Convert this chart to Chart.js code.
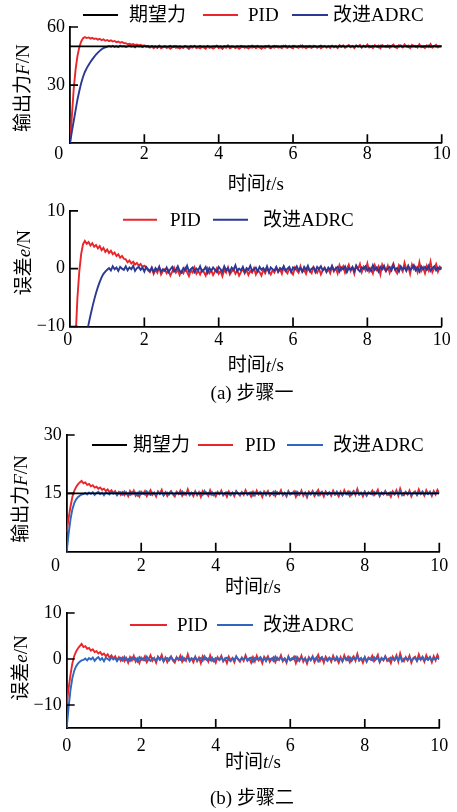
<!DOCTYPE html>
<html>
<head>
<meta charset="utf-8">
<script src="https://cdn.jsdelivr.net/npm/chart.js@4.4.1/dist/chart.umd.min.js"></script>
<style>
  html, body { margin: 0; padding: 0; background: #fff; }
  body { width: 457px; height: 812px; position: relative; overflow: hidden; }
  canvas { position: absolute; left: 0; }
  .cap { position: absolute; left: 132px; width: 240px; text-align: center; font: 19px 'Liberation Serif', 'Noto Sans CJK SC'; color: #000; line-height: 24px; }
</style>
</head>
<body>
<canvas id="c1" width="457" height="205" style="top:0px"></canvas>
<canvas id="c2" width="457" height="210" style="top:195px"></canvas>
<canvas id="c3" width="457" height="200" style="top:405px"></canvas>
<canvas id="c4" width="457" height="217" style="top:595px"></canvas>
<div class="cap" style="top:381px">(a) 步骤一</div>
<div class="cap" style="top:786px">(b) 步骤二</div>
<script>
// ---------- data ----------
const time = [
0,0.05,0.1,0.15,0.2,0.25,0.3,0.35,0.4,0.45,
0.5,0.55,0.6,0.65,0.7,0.75,0.8,0.85,0.9,0.95,
1,1.05,1.1,1.15,1.2,1.25,1.3,1.35,1.4,1.45,
1.5,1.55,1.6,1.65,1.7,1.75,1.8,1.85,1.9,1.95,
2,2.05,2.1,2.15,2.2,2.25,2.3,2.35,2.4,2.45,
2.5,2.55,2.6,2.65,2.7,2.75,2.8,2.85,2.9,2.95,
3,3.05,3.1,3.15,3.2,3.25,3.3,3.35,3.4,3.45,
3.5,3.55,3.6,3.65,3.7,3.75,3.8,3.85,3.9,3.95,
4,4.05,4.1,4.15,4.2,4.25,4.3,4.35,4.4,4.45,
4.5,4.55,4.6,4.65,4.7,4.75,4.8,4.85,4.9,4.95,
5,5.05,5.1,5.15,5.2,5.25,5.3,5.35,5.4,5.45,
5.5,5.55,5.6,5.65,5.7,5.75,5.8,5.85,5.9,5.95,
6,6.05,6.1,6.15,6.2,6.25,6.3,6.35,6.4,6.45,
6.5,6.55,6.6,6.65,6.7,6.75,6.8,6.85,6.9,6.95,
7,7.05,7.1,7.15,7.2,7.25,7.3,7.35,7.4,7.45,
7.5,7.55,7.6,7.65,7.7,7.75,7.8,7.85,7.9,7.95,
8,8.05,8.1,8.15,8.2,8.25,8.3,8.35,8.4,8.45,
8.5,8.55,8.6,8.65,8.7,8.75,8.8,8.85,8.9,8.95,
9,9.05,9.1,9.15,9.2,9.25,9.3,9.35,9.4,9.45,
9.5,9.55,9.6,9.65,9.7,9.75,9.8,9.85,9.9,9.95,
10];

const xTicks = [0, 2, 4, 6, 8, 10];
const yTicksForce1 = [30, 60];
const yTicksError1 = [-10, 0, 10];
const yTicksForce2 = [15, 30];
const yTicksError2 = [-10, 0, 10];

const desiredForce1 = 50;
const desiredForce2 = 15;

const seriesNames = ['期望力', 'PID', '改进ADRC'];

// Step 1 output force F/N
const outputPID1 = [
0,14,28,38,45,49.5,52.5,54.2,54.8,54.3,
54.6,54.0,54.4,53.8,54.1,53.5,53.9,53.2,53.6,52.9,
53.3,52.7,53.1,52.5,52.8,52.2,52.5,51.9,52.2,51.7,
51.6,51.1,51.4,50.9,51.2,50.7,51.0,50.5,50.8,50.3,
50.5,
50.2,49.7,49.4,50.1,49.1,49.8,49.3,50.3,49.0,49.6,
49.9,49.2,49.7,48.8,49.5,50.2,49.3,49.8,48.9,49.6,
49.2,50.1,49.4,48.7,49.7,49.3,50.2,49.1,49.6,49.0,
49.8,49.4,48.8,50.0,49.2,49.7,48.9,49.5,50.1,49.1,
49.6,48.7,49.8,49.3,50.2,49.0,49.5,49.9,49.1,49.7,
48.8,49.4,50.0,49.2,49.8,48.9,49.6,49.3,50.1,49.0,
49.7,49.4,48.8,49.8,49.2,50.1,49.5,49.0,49.7,49.3,
50.2,49.4,49.9,49.1,50.3,49.6,49.2,50.1,49.5,49.0,
50.2,49.7,49.3,50.4,49.4,49.8,49.1,50.1,49.6,49.2,
50.3,49.8,49.3,50.0,49.0,49.7,50.2,49.4,49.9,49.2,
50.3,49.5,50.1,49.2,50.6,49.8,50.4,49.3,50.0,50.7,
49.6,50.2,49.1,50.5,49.9,50.8,49.4,50.3,49.7,50.9,
49.5,50.1,49.2,50.6,49.8,50.4,49.0,50.7,50.0,49.6,
50.5,49.3,50.2,50.9,49.7,49.2,50.6,50.1,49.5,51.0,
49.8,50.4,49.1,50.7,49.9,50.3,49.4,51.1,49.6,50.2,
49.2,50.5,49.7,51.2,49.4,50.1,50.8,49.5,50.3,49.8];

const outputADRC1 = [
0,6,11.5,17,22.5,27,31,34.2,36.8,38.8,
40.4,41.9,43.3,44.6,45.8,46.8,47.7,48.5,49.1,49.5,
49.8,
50.2,49.8,50.3,49.7,50.1,49.6,50.4,49.9,50.2,49.7,
50.0,50.4,49.8,50.2,49.5,50.3,49.9,50.1,49.6,50.2,
49.8,50.3,49.5,50.1,49.7,50.0,49.4,50.2,49.8,49.6,
50.1,49.5,49.9,50.3,49.6,49.8,50.2,49.4,50.0,49.7,
49.5,50.2,49.8,49.4,50.1,49.7,50.3,49.6,49.9,50.2,
49.6,50.0,49.5,50.3,49.8,49.6,50.1,49.9,50.4,49.7,
50.0,49.5,50.2,49.8,50.5,49.6,50.1,49.9,49.5,50.2,
49.8,50.3,49.7,50.0,49.5,50.2,49.9,50.4,49.6,50.0,
50.3,49.7,50.1,49.6,50.2,49.9,50.4,49.5,50.0,50.3,
49.8,50.1,49.5,50.2,49.9,50.4,49.7,50.0,49.6,50.3,
50.0,49.6,50.2,49.8,50.5,49.7,50.1,49.5,50.3,49.9,
49.7,50.2,49.5,50.0,50.4,49.8,50.1,49.6,50.2,49.9,
50.3,49.7,50.1,49.5,50.2,49.8,50.4,49.6,50.0,50.3,
49.8,50.2,49.6,50.4,49.9,50.1,49.5,50.3,49.8,50.0,
50.2,49.6,50.3,49.9,50.1,49.5,50.4,49.8,50.0,50.2,
49.7,50.3,49.9,50.1,49.6,50.2,49.8,50.5,49.7,50.0,
50.3,49.6,50.1,49.8,50.4,49.7,50.2,49.9,50.1,49.6,
50.2,49.8,50.4,49.7,50.0,50.3,49.8,50.1,49.9,50.2];

// Step 1 error e/N
const errorPID1 = [
-50,-36,-22,-12,-5,-0.5,2.5,4.2,4.8,4.3,
4.6,4.0,4.4,3.8,4.1,3.5,3.9,3.2,3.6,2.9,
3.3,2.7,3.1,2.5,2.8,2.2,2.5,1.9,2.2,1.7,
1.6,1.1,1.4,0.9,1.2,0.7,1.0,0.5,0.8,0.3,
0.5,
0.2,-0.3,-0.6,0.1,-0.9,-0.2,-0.7,0.3,-1.0,-0.4,
-0.1,-0.8,-0.3,-1.2,-0.5,0.2,-0.7,-0.2,-1.1,-0.4,
-0.8,0.1,-0.6,-1.3,-0.3,-0.7,0.2,-0.9,-0.4,-1.0,
-0.2,-0.6,-1.2,0.0,-0.8,-0.3,-1.1,-0.5,0.1,-0.9,
-0.4,-1.3,-0.2,-0.7,0.2,-1.0,-0.5,-0.1,-0.9,-0.3,
-1.2,-0.6,0.0,-0.8,-0.2,-1.1,-0.4,-0.7,0.1,-1.0,
-0.3,-0.6,-1.2,-0.2,-0.8,0.1,-0.5,-1.0,-0.3,-0.7,
0.2,-0.6,-0.1,-0.9,0.3,-0.4,-0.8,0.1,-0.5,-1.0,
0.2,-0.3,-0.7,0.4,-0.6,-0.2,-0.9,0.1,-0.4,-0.8,
0.3,-0.2,-0.7,0.0,-1.0,-0.3,0.2,-0.6,-0.1,-0.8,
0.3,-0.5,0.1,-0.8,0.6,-0.2,0.4,-0.7,0.0,0.7,
-0.4,0.2,-0.9,0.5,-0.1,0.8,-0.6,0.3,-0.3,0.9,
-0.5,0.1,-0.8,0.6,-0.2,0.4,-1.0,0.7,0.0,-0.4,
0.5,-0.7,0.2,0.9,-0.3,-0.8,0.6,0.1,-0.5,1.0,
-0.2,0.4,-0.9,0.7,-0.1,0.3,-0.6,1.1,-0.4,0.2,
-0.8,0.5,-0.3,1.2,-0.6,0.1,0.8,-0.5,0.3,-0.2];

const errorADRC1 = [
-50,-44,-38.5,-33,-27.5,-23,-19,-15.8,-13.2,-11.2,
-9.6,-8.1,-6.7,-5.4,-4.2,-3.2,-2.3,-1.5,-0.9,-0.5,
-0.2,
0.1,-0.3,0.4,-0.1,0.2,-0.4,0.3,0.0,-0.2,0.4,
-0.3,0.2,-0.1,0.5,-0.4,0.1,0.3,-0.2,0.2,-0.5,
0.3,-0.1,-0.4,0.2,-0.6,0.1,-0.3,0.3,-0.5,-0.1,
-0.4,0.2,-0.6,-0.1,0.3,-0.5,-0.2,0.4,-0.4,-0.7,
0.1,-0.3,0.5,-0.5,-0.1,0.2,-0.6,0.0,-0.3,0.4,
-0.5,-0.2,0.3,-0.7,0.1,-0.4,0.2,-0.2,-0.6,0.3,
-0.1,-0.5,0.4,-0.3,0.1,-0.6,0.2,-0.2,0.6,-0.4,
0.0,-0.3,0.3,-0.6,0.1,-0.2,0.5,-0.4,-0.1,0.2,
-0.5,0.3,-0.2,0.1,-0.4,0.4,-0.6,0.2,-0.1,-0.3,
0.3,-0.5,0.1,-0.2,0.4,-0.4,0.0,0.3,-0.6,0.2,
-0.1,0.4,-0.3,0.1,-0.5,0.3,-0.2,0.5,-0.4,0.0,
0.2,-0.6,0.3,-0.1,0.4,-0.3,0.1,-0.5,0.2,-0.2,
0.5,-0.3,0.0,0.3,-0.5,0.2,-0.1,0.4,-0.6,0.1,
-0.2,0.3,-0.4,0.5,-0.1,-0.5,0.2,0.0,0.4,-0.3,
0.1,-0.4,0.6,-0.2,0.2,-0.5,0.3,-0.1,0.5,-0.4,
0.0,0.3,-0.3,0.6,-0.2,0.1,-0.5,0.4,-0.1,0.2,
-0.4,0.5,-0.2,0.1,0.6,-0.3,0.2,-0.5,0.4,-0.1,
0.3,-0.2,0.5,-0.4,0.1,0.4,-0.3,0.2,-0.1,0.3];

// Step 2 output force F/N
const outputPID2 = [
5,8.5,11.5,14.0,15.6,16.6,17.3,17.8,18.2,17.6,
17.8,17.2,17.4,16.8,17.1,16.5,16.7,16.2,16.5,15.9,
16.2,15.6,16.0,15.3,15.8,15.1,15.6,14.8,15.4,14.6,
15.3,
14.5,15.2,14.3,15.6,14.8,15.7,14.4,15.1,14.2,15.4,
14.9,15.6,14.3,15.0,15.8,14.6,15.2,14.2,15.5,14.9,
15.9,14.5,15.3,14.3,15.1,15.6,14.7,14.2,15.4,14.8,
15.7,14.4,15.2,14.6,16.0,14.7,15.1,14.3,15.5,14.5,
15.3,14.1,15.6,14.9,15.2,14.4,15.8,14.6,15.0,14.2,
15.4,14.8,15.7,14.5,15.1,14.1,15.5,14.7,15.2,14.3,
15.6,14.9,14.4,15.3,14.6,15.8,14.8,15.1,14.2,15.4,
14.5,15.7,14.7,15.2,14.1,15.5,14.9,15.6,14.4,15.0,
15.4,14.3,15.3,14.8,15.8,14.5,15.1,14.2,15.6,14.7,
14.9,15.5,14.1,15.3,14.6,15.7,14.4,15.2,14.0,15.4,
14.8,15.6,14.3,15.1,15.9,14.6,15.3,14.2,15.5,14.9,
15.2,14.4,15.7,14.7,15.0,14.2,15.4,14.5,15.8,14.8,
15.5,14.3,15.1,15.6,14.6,16.1,14.7,15.2,14.2,15.4,
14.4,15.3,14.9,15.7,14.5,15.0,15.9,14.3,15.2,14.7,
15.6,14.6,15.1,14.1,15.5,14.8,15.8,14.4,16.2,14.9,
14.5,15.4,14.7,15.7,14.2,15.2,15.5,14.6,16.0,14.8,
15.3,14.4,15.8,14.9,15.4,14.3,15.6,14.7,15.9,15.1];

const outputADRC2 = [
0,4.5,8.2,10.8,12.4,13.4,14.0,14.4,14.7,14.8,
15.1,14.7,15.2,
14.9,15.3,14.6,15.1,15.4,14.8,15.2,14.5,15.3,15.0,
14.7,15.4,14.9,15.2,14.5,15.1,15.3,14.7,15.5,14.8,
15.0,14.6,15.3,14.9,15.2,14.5,15.4,14.8,15.1,14.7,
15.5,14.9,14.6,15.2,15.0,14.7,15.4,14.8,15.3,14.5,
15.1,15.2,14.7,15.4,14.9,14.6,15.3,15.0,14.8,15.5,
14.7,15.1,15.3,14.5,15.2,14.9,15.4,14.7,15.0,15.2,
14.6,15.6,14.8,15.1,14.7,15.3,14.5,15.2,15.0,14.8,
15.4,14.6,15.1,15.3,14.9,14.5,15.2,14.8,15.5,15.0,
14.7,15.2,14.9,15.4,14.6,15.1,15.3,14.4,15.2,14.9,
15.0,15.4,14.7,15.2,14.5,15.3,14.9,15.1,14.6,15.5,
14.8,15.0,15.3,14.7,15.1,14.5,15.4,14.8,15.2,14.9,
15.5,14.6,15.0,15.3,14.8,15.1,14.4,15.2,14.7,15.4,
14.9,15.3,14.5,15.1,15.4,14.8,15.0,14.6,15.3,14.9,
15.2,14.7,15.5,14.8,15.1,14.5,15.3,15.0,14.7,15.4,
14.6,15.2,14.9,15.6,14.7,15.1,14.8,15.4,14.5,15.2,
15.0,14.7,15.4,14.9,15.3,14.4,15.2,14.8,15.5,14.9,
14.6,15.3,15.1,14.7,15.4,14.8,15.5,14.5,15.1,15.2,
14.8,15.4,14.7,15.0,15.3,14.6,15.2,14.9,15.5,14.7,
15.1,14.8,15.4,14.6,15.2,15.0,15.3,14.9];

// Step 2 error e/N
const errorPID2 = [
-10,-6.5,-3.5,-1.0,0.6,1.6,2.3,2.8,3.3,2.6,
2.8,2.2,2.4,1.8,2.1,1.5,1.7,1.2,1.5,0.9,
1.2,0.6,1.0,0.3,0.8,0.1,0.6,-0.2,0.4,-0.4,
0.3,
-0.5,0.2,-0.8,0.4,-0.3,0.7,-0.6,0.1,-0.9,0.3,
-0.2,0.6,-0.7,0.0,0.8,-0.4,0.2,-0.8,0.5,-0.1,
0.9,-0.5,0.3,-0.7,0.1,0.6,-0.3,-0.8,0.4,-0.2,
0.7,-0.6,0.2,-0.4,1.0,-0.3,0.1,-0.7,0.5,-0.5,
0.3,-0.9,0.6,-0.1,0.2,-0.6,0.8,-0.4,0.0,-0.8,
0.4,-0.2,0.7,-0.5,0.1,-0.9,0.5,-0.3,0.2,-0.7,
0.6,-0.1,-0.6,0.3,-0.4,0.8,-0.2,0.1,-0.8,0.4,
-0.5,0.7,-0.3,0.2,-0.9,0.5,-0.1,0.6,-0.6,0.0,
0.4,-0.7,0.3,-0.2,0.8,-0.5,0.1,-0.8,0.6,-0.3,
-0.1,0.5,-0.9,0.3,-0.4,0.7,-0.6,0.2,-1.0,0.4,
-0.2,0.6,-0.7,0.1,0.9,-0.4,0.3,-0.8,0.5,-0.1,
0.2,-0.6,0.7,-0.3,0.0,-0.8,0.4,-0.5,0.8,-0.2,
0.5,-0.7,0.1,0.6,-0.4,1.1,-0.3,0.2,-0.8,0.4,
-0.6,0.3,-0.1,0.7,-0.5,0.0,0.9,-0.7,0.2,-0.3,
0.6,-0.4,0.1,-0.9,0.5,-0.2,0.8,-0.6,1.2,-0.1,
-0.5,0.4,-0.3,0.7,-0.8,0.2,0.5,-0.4,1.0,-0.2,
0.3,-0.6,0.8,-0.1,0.4,-0.7,0.6,-0.3,0.9,0.1];

const errorADRC2 = [
-15,-10.5,-6.8,-4.2,-2.6,-1.6,-1.0,-0.6,-0.3,-0.2,
0.1,-0.3,0.2,
-0.1,0.3,-0.4,0.1,0.4,-0.2,0.2,-0.5,0.3,0.0,
-0.3,0.4,-0.1,0.2,-0.5,0.1,0.3,-0.3,0.5,-0.2,
0.0,-0.4,0.3,-0.1,0.2,-0.5,0.4,-0.2,0.1,-0.3,
0.5,-0.1,-0.4,0.2,0.0,-0.3,0.4,-0.2,0.3,-0.5,
0.1,0.2,-0.3,0.4,-0.1,-0.4,0.3,0.0,-0.2,0.5,
-0.3,0.1,0.3,-0.5,0.2,-0.1,0.4,-0.3,0.0,0.2,
-0.4,0.6,-0.2,0.1,-0.3,0.3,-0.5,0.2,0.0,-0.2,
0.4,-0.4,0.1,0.3,-0.1,-0.5,0.2,-0.2,0.5,0.0,
-0.3,0.2,-0.1,0.4,-0.4,0.1,0.3,-0.6,0.2,-0.1,
0.0,0.4,-0.3,0.2,-0.5,0.3,-0.1,0.1,-0.4,0.5,
-0.2,0.0,0.3,-0.3,0.1,-0.5,0.4,-0.2,0.2,-0.1,
0.5,-0.4,0.0,0.3,-0.2,0.1,-0.6,0.2,-0.3,0.4,
-0.1,0.3,-0.5,0.1,0.4,-0.2,0.0,-0.4,0.3,-0.1,
0.2,-0.3,0.5,-0.2,0.1,-0.5,0.3,0.0,-0.3,0.4,
-0.4,0.2,-0.1,0.6,-0.3,0.1,-0.2,0.4,-0.5,0.2,
0.0,-0.3,0.4,-0.1,0.3,-0.6,0.2,-0.2,0.5,-0.1,
-0.4,0.3,0.1,-0.3,0.4,-0.2,0.5,-0.5,0.1,0.2,
-0.2,0.4,-0.3,0.0,0.3,-0.4,0.2,-0.1,0.5,-0.3,
0.1,-0.2,0.4,-0.4,0.2,0.0,0.3,-0.1];

// ---------- sanity ----------
const allSeries = {outputPID1, outputADRC1, errorPID1, errorADRC1, outputPID2, outputADRC2, errorPID2, errorADRC2};
for (const k in allSeries) {
  if (allSeries[k].length !== time.length) throw new Error(k + ' has ' + allSeries[k].length + ' points, time has ' + time.length);
}

// ---------- styling ----------
const FAMILY = "'Liberation Serif', 'Noto Sans CJK SC', serif";
const BLACK = '#000000';
const RED = '#e8262c';
const BLUE_A = '#2b3894';
const BLUE_B = '#2f67c0';

const pts = (ys) => time.map((t, i) => ({ x: t, y: ys[i] }));
const flat = (v) => [{ x: time[0], y: v }, { x: time[time.length - 1], y: v }];

function lineDs(label, data, color, order, width) {
  return { label, data, borderColor: color, backgroundColor: color, borderWidth: width || 1.9,
           pointRadius: 0, tension: 0, order };
}

function drawRich(ctx, parts, cx, cy, rot, size) {
  ctx.save();
  ctx.translate(cx, cy);
  ctx.rotate(rot);
  ctx.textBaseline = 'middle';
  ctx.textAlign = 'left';
  ctx.fillStyle = '#000';
  const fonts = parts.map(p => (p.i ? 'italic ' : '') + size + 'px ' + FAMILY);
  let total = 0;
  parts.forEach((p, k) => { ctx.font = fonts[k]; total += ctx.measureText(p.t).width; });
  let x = -total / 2;
  parts.forEach((p, k) => { ctx.font = fonts[k]; ctx.fillText(p.t, x, 0); x += ctx.measureText(p.t).width; });
  ctx.restore();
}

const decorPlugin = {
  id: 'decor',
  afterDraw(chart, args, o) {
    const ctx = chart.ctx, a = chart.chartArea;
    const xs = chart.scales.x, ys = chart.scales.y;
    ctx.save();
    // inward tick marks
    ctx.strokeStyle = '#000';
    ctx.lineWidth = 1.7;
    ctx.beginPath();
    xTicks.filter(v => v !== 0).forEach(v => {
      const px = xs.getPixelForValue(v);
      ctx.moveTo(px, a.bottom); ctx.lineTo(px, a.bottom - 9);
    });
    o.yTicks.forEach(v => {
      const py = ys.getPixelForValue(v);
      ctx.moveTo(a.left, py); ctx.lineTo(a.left + 8, py);
    });
    ctx.stroke();
    // legend
    const ly = a.top + o.legendDy;
    chart.data.datasets.forEach((ds, i) => {
      const pos = o.legendPos[i];
      ctx.strokeStyle = ds.borderColor;
      ctx.lineWidth = 2;
      ctx.beginPath();
      ctx.moveTo(pos[0], ly); ctx.lineTo(pos[1], ly);
      ctx.stroke();
      ctx.fillStyle = '#000';
      ctx.font = '19px ' + FAMILY;
      ctx.textBaseline = 'middle';
      ctx.textAlign = 'left';
      ctx.fillText(ds.label, pos[2], ly + 1);
    });
    // axis titles
    drawRich(ctx, o.xTitle, (a.left + a.right) / 2, a.bottom + o.xTitleDy, 0, 19);
    drawRich(ctx, o.yTitle, o.yTitleX, (a.top + a.bottom) / 2 + o.yTitleDy, -Math.PI / 2, 19);
    ctx.restore();
  }
};

const xTitleParts = [{ t: '时间' }, { t: 't', i: true }, { t: '/s' }];
const forceTitleParts = [{ t: '输出力' }, { t: 'F', i: true }, { t: '/N' }];
const errorTitleParts = [{ t: '误差' }, { t: 'e', i: true }, { t: '/N' }];

function makeChart(id, c) {
  const tickFont = { family: FAMILY, size: 18 };
  return new Chart(document.getElementById(id), {
    type: 'line',
    data: { datasets: c.datasets },
    options: {
      responsive: false,
      animation: false,
      events: [],
      layout: { padding: { top: c.padTop, right: c.padRight, left: 0, bottom: 0 } },
      plugins: {
        legend: { display: false },
        tooltip: { enabled: false },
        decor: { yTicks: c.yTicks, legendDy: c.legendDy, legendPos: c.legendPos,
                 xTitle: xTitleParts, xTitleDy: c.xTitleDy,
                 yTitle: c.yTitle, yTitleX: c.yTitleX, yTitleDy: c.yTitleDy }
      },
      scales: {
        x: {
          type: 'linear', min: 0, max: 10,
          afterBuildTicks: s => { s.ticks = xTicks.map(v => ({ value: v })); },
          afterFit: s => { s.height = c.xHeight; },
          grid: { display: false, drawTicks: false },
          border: { display: true, color: '#000', width: 1.8 },
          ticks: { padding: c.xPad, maxRotation: 0, minRotation: 0, autoSkip: false, font: tickFont, color: '#000',
                   callback: v => (v === 0 ? '0' + c.zeroPad : String(v)) }
        },
        y: {
          type: 'linear', min: c.yMin, max: c.yMax,
          afterBuildTicks: s => { s.ticks = c.yTicks.map(v => ({ value: v })); },
          afterFit: s => { s.width = c.yWidth; },
          grid: { display: false, drawTicks: false },
          border: { display: true, color: '#000', width: 1.8 },
          ticks: { padding: 5, autoSkip: false, font: tickFont, color: '#000',
                   callback: v => (v < 0 ? '\u2212' + Math.abs(v) : String(v)) }
        }
      }
    },
    plugins: [decorPlugin]
  });
}

// (a) step 1 : output
makeChart('c1', {
  datasets: [
    lineDs(seriesNames[0], flat(desiredForce1), BLACK, 0, 1.6),
    lineDs(seriesNames[1], pts(outputPID1), RED, 2),
    lineDs(seriesNames[2], pts(outputADRC1), BLUE_A, 1)
  ],
  yMin: 0, yMax: 60, yTicks: yTicksForce1,
  padTop: 27, padRight: 15.3, yWidth: 70, xHeight: 61.7, xPad: 0, zeroPad: '     ',
  legendDy: -12, legendPos: [[83, 118, 129], [203, 238, 248], [292, 328, 333]],
  xTitleDy: 41.7, yTitle: forceTitleParts, yTitleX: 24, yTitleDy: 3
});

// (a) step 1 : error
makeChart('c2', {
  datasets: [
    lineDs(seriesNames[1], pts(errorPID1), RED, 2),
    lineDs(seriesNames[2], pts(errorADRC1), BLUE_A, 1)
  ],
  yMin: -10, yMax: 10, yTicks: yTicksError1,
  padTop: 15, padRight: 15.3, yWidth: 70, xHeight: 78.5, xPad: 2.5, zeroPad: ' ',
  legendDy: 9, legendPos: [[123, 157, 170], [213, 248, 263]],
  xTitleDy: 40, yTitle: errorTitleParts, yTitleX: 25, yTitleDy: -6
});

// (b) step 2 : output
makeChart('c3', {
  datasets: [
    lineDs(seriesNames[0], flat(desiredForce2), BLACK, 0, 1.6),
    lineDs(seriesNames[1], pts(outputPID2), RED, 2),
    lineDs(seriesNames[2], pts(outputADRC2), BLUE_B, 1)
  ],
  yMin: 0, yMax: 30, yTicks: yTicksForce2,
  padTop: 30, padRight: 17.7, yWidth: 66.7, xHeight: 53.3, xPad: 4, zeroPad: '     ',
  legendDy: 10, legendPos: [[92, 127, 133], [198, 233, 245], [287, 323, 333]],
  xTitleDy: 36.6, yTitle: forceTitleParts, yTitleX: 21.7, yTitleDy: 5.7
});

// (b) step 2 : error
makeChart('c4', {
  datasets: [
    lineDs(seriesNames[1], pts(errorPID2), RED, 2),
    lineDs(seriesNames[2], pts(errorADRC2), BLUE_B, 1)
  ],
  yMin: -15, yMax: 10, yTicks: yTicksError2,
  padTop: 18, padRight: 17.7, yWidth: 66.7, xHeight: 84, xPad: 7.5, zeroPad: '',
  legendDy: 12, legendPos: [[130, 167, 177], [217, 253, 263]],
  xTitleDy: 35, yTitle: errorTitleParts, yTitleX: 21.7, yTitleDy: -2.5
});
</script>
</body>
</html>
